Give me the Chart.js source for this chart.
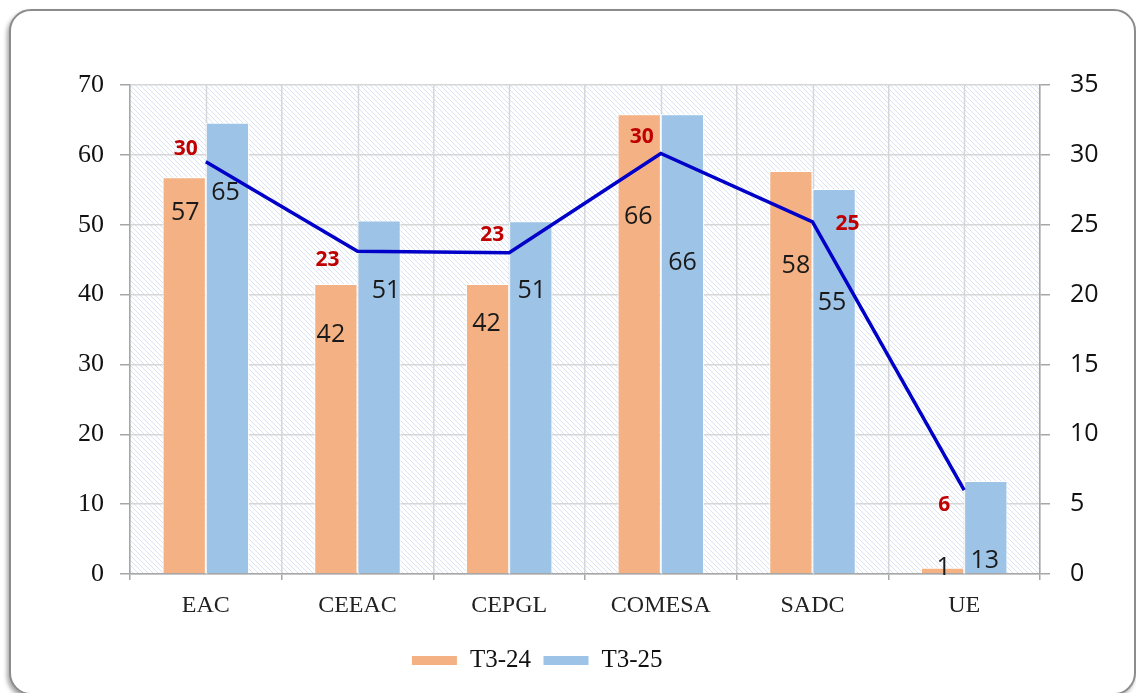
<!DOCTYPE html>
<html><head><meta charset="utf-8">
<script src="https://cdn.jsdelivr.net/npm/chart.js@4.4.1/dist/chart.umd.min.js"></script>
<style>
html,body{margin:0;padding:0;background:#fff;overflow:hidden;width:1136px;height:693px;}
#frame{position:absolute;left:9px;top:9px;width:1127px;height:686px;box-sizing:border-box;border:2px solid #8c8c8c;border-radius:22px;box-shadow:-2px 3px 4px rgba(0,0,0,0.35);background:#fff;}
#c{position:absolute;left:0;top:0;}
</style></head><body>
<div id="frame"></div>
<canvas id="c" width="1136" height="693"></canvas>
<script>
const categories = ['EAC', 'CEEAC', 'CEPGL', 'COMESA', 'SADC', 'UE'];
const seriesT324 = [56.8, 41.5, 41.5, 65.8, 57.7, 0.9];
const seriesT325 = [64.6, 50.6, 50.5, 65.8, 55.1, 13.3];
const lineValues = [29.5, 23.1, 23.0, 30.1, 25.2, 6.0];
const seriesNames = ['T3-24', 'T3-25'];
const leftAxis = { min: 0, max: 70, step: 10 };
const rightAxis = { min: 0, max: 35, step: 5 };

// label placement (pixels) - styling only
const labelPlacement = {
  bar0: [[1, 36], [-5, 51], [-1, 40], [-1, 103], [5, 95], [1, 0]],
  bar1: [[-2, 70], [7, 70], [1, 70], [0, 149], [-2, 114], [-1, 80]],
  line: [[-20, -13], [-30, 9], [-17, -18], [-19, -16], [35, 2], [-20, 15]]
};

const GRID = '#d6d6d6';
const AXIS = '#a6a6a6';
const LEGEND_SHIFT = -31;

const hatchPlugin = {
  id: 'hatch',
  afterLayout(chart) {
    const l = chart.legend;
    if (l) { l.left += LEGEND_SHIFT; l.right += LEGEND_SHIFT; }
  },
  beforeDraw(chart) {
    const { ctx, chartArea: a } = chart;
    const n = 5;
    const p = document.createElement('canvas');
    p.width = n; p.height = n;
    const pc = p.getContext('2d');
    pc.fillStyle = '#ffffff';
    pc.fillRect(0, 0, n, n);
    pc.strokeStyle = '#d9e3f4';
    pc.lineWidth = 1;
    pc.beginPath();
    pc.moveTo(-1, -1); pc.lineTo(n + 1, n + 1);
    pc.moveTo(-1, n - 1); pc.lineTo(1, n + 1);
    pc.moveTo(n - 1, -1); pc.lineTo(n + 1, 1);
    pc.stroke();
    ctx.save();
    ctx.fillStyle = ctx.createPattern(p, 'repeat');
    ctx.fillRect(a.left, a.top, a.right - a.left, a.bottom - a.top);
    ctx.restore();
  },
  beforeDatasetsDraw(chart) {
    const { ctx, chartArea: a } = chart;
    const xs = chart.scales.x;
    ctx.save();
    ctx.strokeStyle = GRID;
    ctx.lineWidth = 1.5;
    categories.forEach((c, i) => {
      const x = Math.round(xs.getPixelForValue(i)) + 0.5;
      ctx.beginPath();
      ctx.moveTo(x, a.top);
      ctx.lineTo(x, a.bottom);
      ctx.stroke();
    });
    ctx.restore();
  }
};

const labelPlugin = {
  id: 'valueLabels',
  afterDatasetDraw(chart, args) {
    const { ctx } = chart;
    const i = args.index;
    const meta = args.meta;
    ctx.save();
    ctx.textAlign = 'center';
    ctx.textBaseline = 'middle';
    if (i < 2) {
      const off = labelPlacement['bar' + i];
      ctx.font = '25px "Open Sans"';
      ctx.fillStyle = '#1a1a1a';
      meta.data.forEach((el, j) => {
        const v = chart.data.datasets[i].data[j];
        ctx.fillText(String(Math.round(v)), el.x + off[j][0], el.y + off[j][1]);
      });
    } else {
      const off = labelPlacement.line;
      ctx.font = 'bold 21px "Open Sans"';
      ctx.fillStyle = '#c00000';
      meta.data.forEach((el, j) => {
        const v = chart.data.datasets[i].data[j];
        ctx.fillText(String(Math.round(v)), el.x + off[j][0], el.y + off[j][1]);
      });
    }
    ctx.restore();
  }
};

new Chart(document.getElementById('c'), {
  data: {
    labels: categories,
    datasets: [
      { type: 'bar', label: seriesNames[0], data: seriesT324, backgroundColor: '#f4b183', borderColor: '#ffffff', borderWidth: 1, borderSkipped: 'bottom', yAxisID: 'y', order: 2, categoryPercentage: 0.57, barPercentage: 1.0 },
      { type: 'bar', label: seriesNames[1], data: seriesT325, backgroundColor: '#9dc3e6', borderColor: '#ffffff', borderWidth: 1, borderSkipped: 'bottom', yAxisID: 'y', order: 2, categoryPercentage: 0.57, barPercentage: 1.0 },
      { type: 'line', label: 'line', data: lineValues, borderColor: '#0000c8', borderWidth: 3.5, pointRadius: 0, fill: false, tension: 0, yAxisID: 'y1', order: 0 }
    ]
  },
  options: {
    responsive: false,
    animation: false,
    layout: { padding: { top: 85, right: 0, bottom: 10, left: 0 } },
    plugins: {
      tooltip: { enabled: false },
      legend: {
        position: 'bottom',
        labels: {
          boxWidth: 46, boxHeight: 10, padding: 12,
          font: { family: '"Liberation Serif"', size: 25 }, color: '#111',
          filter: (item) => item.datasetIndex < 2
        }
      }
    },
    scales: {
      x: {
        type: 'category', offset: true,
        grid: { offset: true, color: GRID, lineWidth: 1.5, tickLength: 6, tickColor: AXIS },
        border: { color: AXIS, width: 1.5 },
        ticks: { font: { family: '"Liberation Serif"', size: 24 }, color: '#222', padding: 11 },
        afterFit: (s) => { s.height = 62; }
      },
      y: {
        type: 'linear', position: 'left', min: leftAxis.min, max: leftAxis.max,
        ticks: { stepSize: leftAxis.step, font: { family: '"Liberation Serif"', size: 26 }, color: '#111', padding: 16 },
        grid: { color: GRID, lineWidth: 1.5, tickLength: 10, tickColor: AXIS },
        border: { color: AXIS, width: 1.5 },
        afterFit: (s) => { s.width = 130; }
      },
      y1: {
        type: 'linear', position: 'right', min: rightAxis.min, max: rightAxis.max,
        ticks: { stepSize: rightAxis.step, font: { family: '"Open Sans"', size: 25 }, color: '#111', padding: 20 },
        grid: { drawOnChartArea: false, tickLength: 10, tickColor: AXIS, lineWidth: 1.5 },
        border: { color: AXIS, width: 1.5 },
        afterFit: (s) => { s.width = 96; }
      }
    }
  },
  plugins: [hatchPlugin, labelPlugin]
});
</script>
</body></html>
